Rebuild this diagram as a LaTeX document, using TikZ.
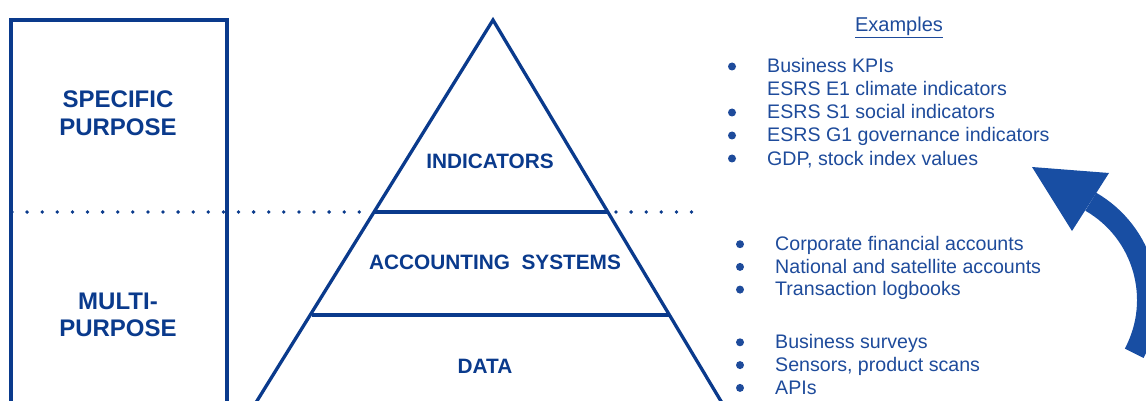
\documentclass[tikz,border=0pt]{standalone}
\usepackage{fontspec}
\setmainfont{Liberation Sans}
\usepackage{xcolor}
\definecolor{navy}{RGB}{10,58,140}
\definecolor{itemblue}{RGB}{30,75,155}
\definecolor{arrowblue}{RGB}{24,78,163}

\begin{document}
\begin{tikzpicture}[x=1pt,y=-1pt,line join=miter,
                    frame/.style={draw=navy,line width=3.3pt},
                    side/.style={font=\fontsize{24}{27.5}\selectfont\bfseries,
                                 text=navy,align=center,inner sep=0pt},
                    level/.style={font=\fontsize{20.8}{24}\selectfont\bfseries,
                                  text=navy,inner sep=0pt},
                    item/.style={anchor=base west,inner sep=0pt,text=itemblue,
                                 font=\fontsize{19.6}{22}\selectfont},
                    dot/.style={fill=itemblue,circle,inner sep=0pt,
                                minimum size=8pt}]
  \useasboundingbox (0,0) rectangle (1146,401);
  \clip (0,0) rectangle (1146,401);

  % left column
  \draw[frame] (11,430) |- (227,20) -- (227,430);
  \node[side] (spec)  at (118,113) {SPECIFIC\\PURPOSE};
  \node[side] (multi) at (118,315) {MULTI-\\PURPOSE};
  \draw[navy,line width=3.8pt,line cap=round,dash pattern=on 0pt off 15.1pt]
       (12,212) -- (693,212);

  % pyramid
  \coordinate (top) at (493,20);
  \coordinate (bl)  at (234,438);
  \coordinate (br)  at (743,438);
  \draw[frame] (bl) -- (top) -- (br);
  \draw[frame] (375,212) -- (608,212);
  \draw[frame] (312,315) -- (670,315);
  \node[level] (ind)  at (490,161) {INDICATORS};
  \node[level] (acc)  at (495,262) {ACCOUNTING\ \ SYSTEMS};
  \node[level] (data) at (485,366) {DATA};

  % examples
  \node[item,anchor=base,font=\fontsize{20}{24}\selectfont] (ex)
       at (899,31.5) {\underline{Examples}};
  \foreach \t [count=\i] in {Business KPIs,ESRS E1 climate indicators,
      ESRS S1 social indicators,ESRS G1 governance indicators,
      GDP{,} stock index values}
    \node[item] (ind\i) at (767,{50+23*\i}) {\t};
  \foreach \i in {1,3,4,5}
    \node[dot] (bi\i) at (732,{43.5+23*\i}) {};

  \foreach \t [count=\i] in {Corporate financial accounts,
      National and satellite accounts,Transaction logbooks}
    \node[item] (acc\i) at (775,{227.7+22.7*\i}) {\t};
  \foreach \t [count=\i] in {Business surveys,Sensors{,} product scans,APIs}
    \node[item] (dat\i) at (775,{325.3+23*\i}) {\t};
  \foreach \i in {1,2,3} {
    \node[dot] (ba\i) at (740,{221.5+22.7*\i}) {};
    \node[dot] (bd\i) at (740,{319.5+22.8*\i}) {};
  }

  % upward arrow
  \draw[arrowblue,line width=21pt] (1034,300) ++(28:113.5)
       arc[start angle=28,end angle=-60,radius=113.5];
  \fill[arrowblue] (1032,167) -- (1109,173) -- (1072,231) -- cycle;
\end{tikzpicture}
\end{document}
